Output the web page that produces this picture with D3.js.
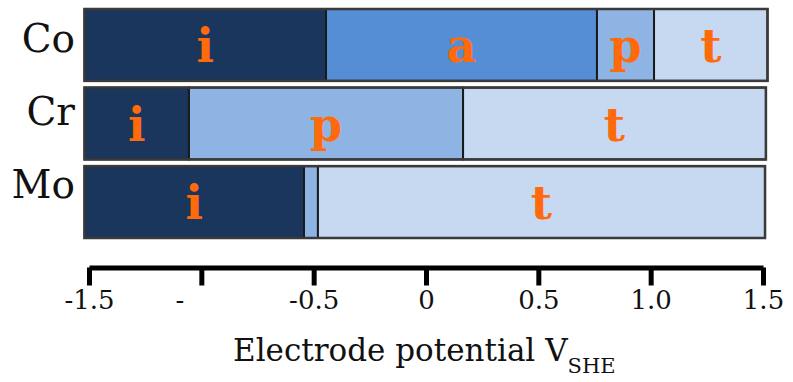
<!DOCTYPE html>
<html>
<head>
<meta charset="utf-8">
<script src="https://cdn.jsdelivr.net/npm/d3@7"></script>
<style>
  body { margin: 0; background: #fff; }
  svg { display: block; }
  text { font-family: "DejaVu Serif", serif; }
</style>
</head>
<body>
<div id="chart"></div>
<script>
// Rows (metals)
const elements = ["Co", "Cr", "Mo"];

// Phase boundaries per metal (V vs SHE) and which phase each segment is
const coBounds = [-1.52, -0.445, 0.761, 1.015, 1.52];
const coPhases = ["i", "a", "p", "t"];
const crBounds = [-1.52, -1.055, 0.165, 1.513];
const crPhases = ["i", "p", "t"];
const moBounds = [-1.52, -0.543, -0.481, 1.509];
const moPhases = ["i", "p", "t"];
const moLabels = ["i", "", "t"];

// Axis ticks
const tickValues = [-1.5, -1, -0.5, 0, 0.5, 1, 1.5];
const tickLabels = ["-1.5", "-", "-0.5", "0", "0.5", "1.0", "1.5"];

const phaseColor = { i: "#1b365d", a: "#558ed5", p: "#8eb4e3", t: "#c6d9f1" };

const rows = [
  { name: "Co", bounds: coBounds, phases: coPhases, labels: coPhases },
  { name: "Cr", bounds: crBounds, phases: crPhases, labels: crPhases },
  { name: "Mo", bounds: moBounds, phases: moPhases, labels: moLabels }
];

const width = 793, height = 382;

const svg = d3.select("#chart").append("svg")
  .attr("width", width)
  .attr("height", height);

const x = d3.scaleLinear().domain([-1.5, 1.5]).range([89, 763]);
const y = d3.scaleBand().domain(elements).range([9, 238]).paddingInner(0.085);
const labelY = d3.scalePoint().domain(elements).range([52, 198]);

// Build segments for each row
const segments = [];
rows.forEach(r => {
  r.phases.forEach((p, k) => {
    segments.push({ row: r.name, phase: p, label: r.labels[k], x0: r.bounds[k], x1: r.bounds[k + 1] });
  });
});

const bars = svg.append("g");

bars.selectAll("rect.seg")
  .data(segments)
  .enter().append("rect")
  .attr("class", "seg")
  .attr("x", d => x(d.x0))
  .attr("y", d => y(d.row))
  .attr("width", d => x(d.x1) - x(d.x0))
  .attr("height", y.bandwidth())
  .attr("fill", d => phaseColor[d.phase])
  .attr("stroke", "#1a1a1a")
  .attr("stroke-width", 2);

// outer frame of each bar
bars.selectAll("rect.frame")
  .data(rows)
  .enter().append("rect")
  .attr("class", "frame")
  .attr("x", d => x(d.bounds[0]))
  .attr("y", d => y(d.name))
  .attr("width", d => x(d.bounds[d.bounds.length - 1]) - x(d.bounds[0]))
  .attr("height", y.bandwidth())
  .attr("fill", "none")
  .attr("stroke", "#3a3a3a")
  .attr("stroke-width", 2.5);

// phase letters
bars.selectAll("text.phase")
  .data(segments.filter(d => d.label))
  .enter().append("text")
  .attr("class", "phase")
  .attr("x", d => x((d.x0 + d.x1) / 2))
  .attr("y", d => y(d.row) + y.bandwidth() / 2 + 17)
  .attr("text-anchor", "middle")
  .attr("font-family", "Liberation Serif, serif")
  .attr("font-weight", "bold")
  .attr("font-size", 46)
  .attr("fill", "#ff6a0d")
  .text(d => d.label);

// row labels
svg.append("g").selectAll("text")
  .data(elements)
  .enter().append("text")
  .attr("x", 75)
  .attr("y", d => labelY(d))
  .attr("text-anchor", "end")
  .attr("font-size", 39)
  .attr("fill", "#111")
  .text(d => d);

// x axis
const axis = svg.append("g")
  .attr("transform", "translate(0,267.5)")
  .call(d3.axisBottom(x)
    .tickValues(tickValues)
    .tickFormat((d, i) => tickLabels[i])
    .tickSize(18)
    .tickSizeOuter(0)
    .tickPadding(5));

axis.select(".domain").attr("stroke", "#000").attr("stroke-width", 5);
axis.selectAll(".tick line").attr("stroke", "#000").attr("stroke-width", 5);
axis.selectAll(".tick text")
  .attr("font-family", "DejaVu Serif, serif")
  .attr("font-size", 26)
  .attr("fill", "#111");
// the -1 label only shows its minus sign, left of the tick
axis.selectAll(".tick text").filter((d, i) => i === 1)
  .attr("x", -22);

// axis title
const title = svg.append("text")
  .attr("x", 233)
  .attr("y", 361)
  .attr("font-size", 31)
  .attr("fill", "#111");
title.append("tspan").text("Electrode potential V");
title.append("tspan")
  .attr("font-size", 21)
  .attr("dy", 12)
  .text("SHE");
</script>
</body>
</html>
